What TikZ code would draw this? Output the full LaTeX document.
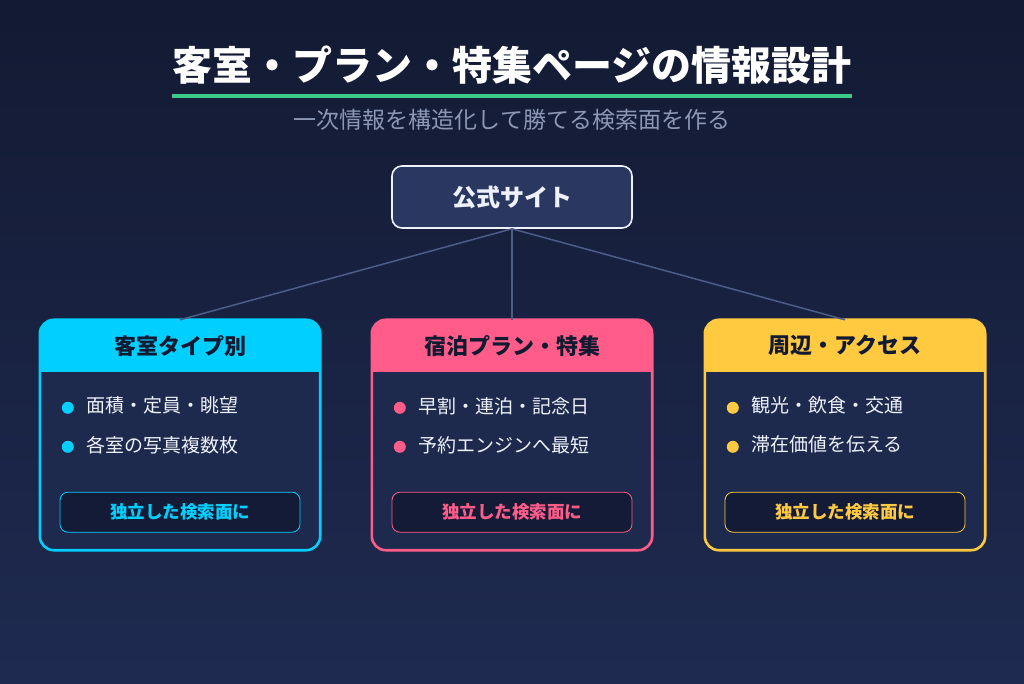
\documentclass[tikz,border=0pt]{standalone}
\usepackage{fontspec}
\setmainfont{Noto Sans CJK JP}
\usepackage{xcolor}
\usepackage{tikz}
\usetikzlibrary{
  positioning,
  calc
}
\definecolor{bgtop}{HTML}{131A33}
\definecolor{bgbot}{HTML}{1E2A50}
\definecolor{bodyfill}{HTML}{1E2A4D}
\definecolor{tagfill}{HTML}{141B36}
\definecolor{sitefill}{HTML}{2A3761}
\definecolor{linkgrey}{HTML}{4D5D88}
\definecolor{rulegreen}{HTML}{3CC98A}
\definecolor{subgrey}{HTML}{8C98B6}
\definecolor{inktext}{HTML}{EDF1FA}
\definecolor{headink}{HTML}{111A30}
\definecolor{roomcyan}{HTML}{00CFFF}
\definecolor{planpink}{HTML}{FF5C8A}
\definecolor{areagold}{HTML}{FFC940}
\tikzset{
  titletext/.style={
    inner sep=0pt, text=white,
    font=\fontsize{40}{48}\selectfont\bfseries
  },
  subtext/.style={
    inner sep=0pt, text=subgrey,
    font=\fontsize{23}{27}\selectfont
  },
  sitebox/.style={
    rectangle, rounded corners=10pt, draw=inktext, fill=sitefill,
    line width=1.6pt, minimum width=240pt, minimum height=62pt,
    text=inktext, font=\fontsize{24}{28}\selectfont\bfseries
  },
  cardbody/.style={
    rectangle, rounded corners=14pt, fill=bodyfill, inner sep=0pt,
    minimum width=280pt, minimum height=230pt
  },
  cardedge/.style={
    draw=#1, line width=2.6pt, rounded corners=14pt
  },
  cardtitle/.style={
    inner sep=0pt, text=headink,
    font=\fontsize{22}{26}\selectfont\bfseries
  },
  bullet/.style={
    circle, fill=#1, inner sep=0pt, minimum size=12pt
  },
  itemtext/.style={
    inner sep=0pt, anchor=west, text=inktext,
    font=\fontsize{19}{23}\selectfont
  },
  tagbox/.style={
    rectangle, rounded corners=8pt, draw=#1, fill=tagfill,
    line width=0.8pt, minimum width=240pt, minimum height=40pt,
    text=#1, font=\fontsize{17.5}{21}\selectfont\bfseries
  },
  link/.style={
    line width=1.5pt, color=linkgrey
  },
}
\newcommand{\topiccard}[6]{%
  \node[cardbody] (#1) at (#2,248) {};
  \begin{scope}
    \clip[rounded corners=14pt] (#1.south west) rectangle (#1.north east);
    \fill[#3] (#1.north west) rectangle ($(#1.north east)+(0,-52)$);
  \end{scope}
  \draw[cardedge=#3] (#1.south west) rectangle (#1.north east);
  \node[cardtitle] (#1-title) at ($(#1.north)+(0,-26)$) {#4};
  \node[bullet=#3] (#1-dot1) at ($(#1.north west)+(28,-88)$) {};
  \node[itemtext, right=12pt of #1-dot1, yshift=2pt] (#1-item1) {#5};
  \node[bullet=#3] (#1-dot2) at ($(#1.north west)+(28,-127)$) {};
  \node[itemtext, right=12pt of #1-dot2, yshift=2pt] (#1-item2) {#6};
  \node[tagbox=#3] (#1-tag) at ($(#1.south)+(0,38)$) {独立した検索面に};
}

\begin{document}
\begin{tikzpicture}[x=1pt, y=1pt]
  \useasboundingbox (0,0) rectangle (1024,683);
  \shade[top color=bgtop, bottom color=bgbot] (0,0) rectangle (1024,683);

  \node[titletext] (title) at (512,618) {客室・プラン・特集ページの情報設計};
  \coordinate (rule-l) at (172,587);
  \coordinate (rule-r) at (852,587);
  \draw[rulegreen, line width=4pt] (rule-l) -- (rule-r);
  \node[subtext] (subtitle) at (512,563) {一次情報を構造化して勝てる検索面を作る};

  \node[sitebox] (site) at (512,486) {公式サイト};

  \topiccard{rooms}{180}{roomcyan}{客室タイプ別}{面積・定員・眺望}{各室の写真複数枚}
  \topiccard{plans}{512}{planpink}{宿泊プラン・特集}{早割・連泊・記念日}{予約エンジンへ最短}
  \topiccard{area}{845}{areagold}{周辺・アクセス}{観光・飲食・交通}{滞在価値を伝える}

  \draw[link] (site.south) -- (rooms.north);
  \draw[link] (site.south) -- (plans.north);
  \draw[link] (site.south) -- (area.north);
\end{tikzpicture}
\end{document}
